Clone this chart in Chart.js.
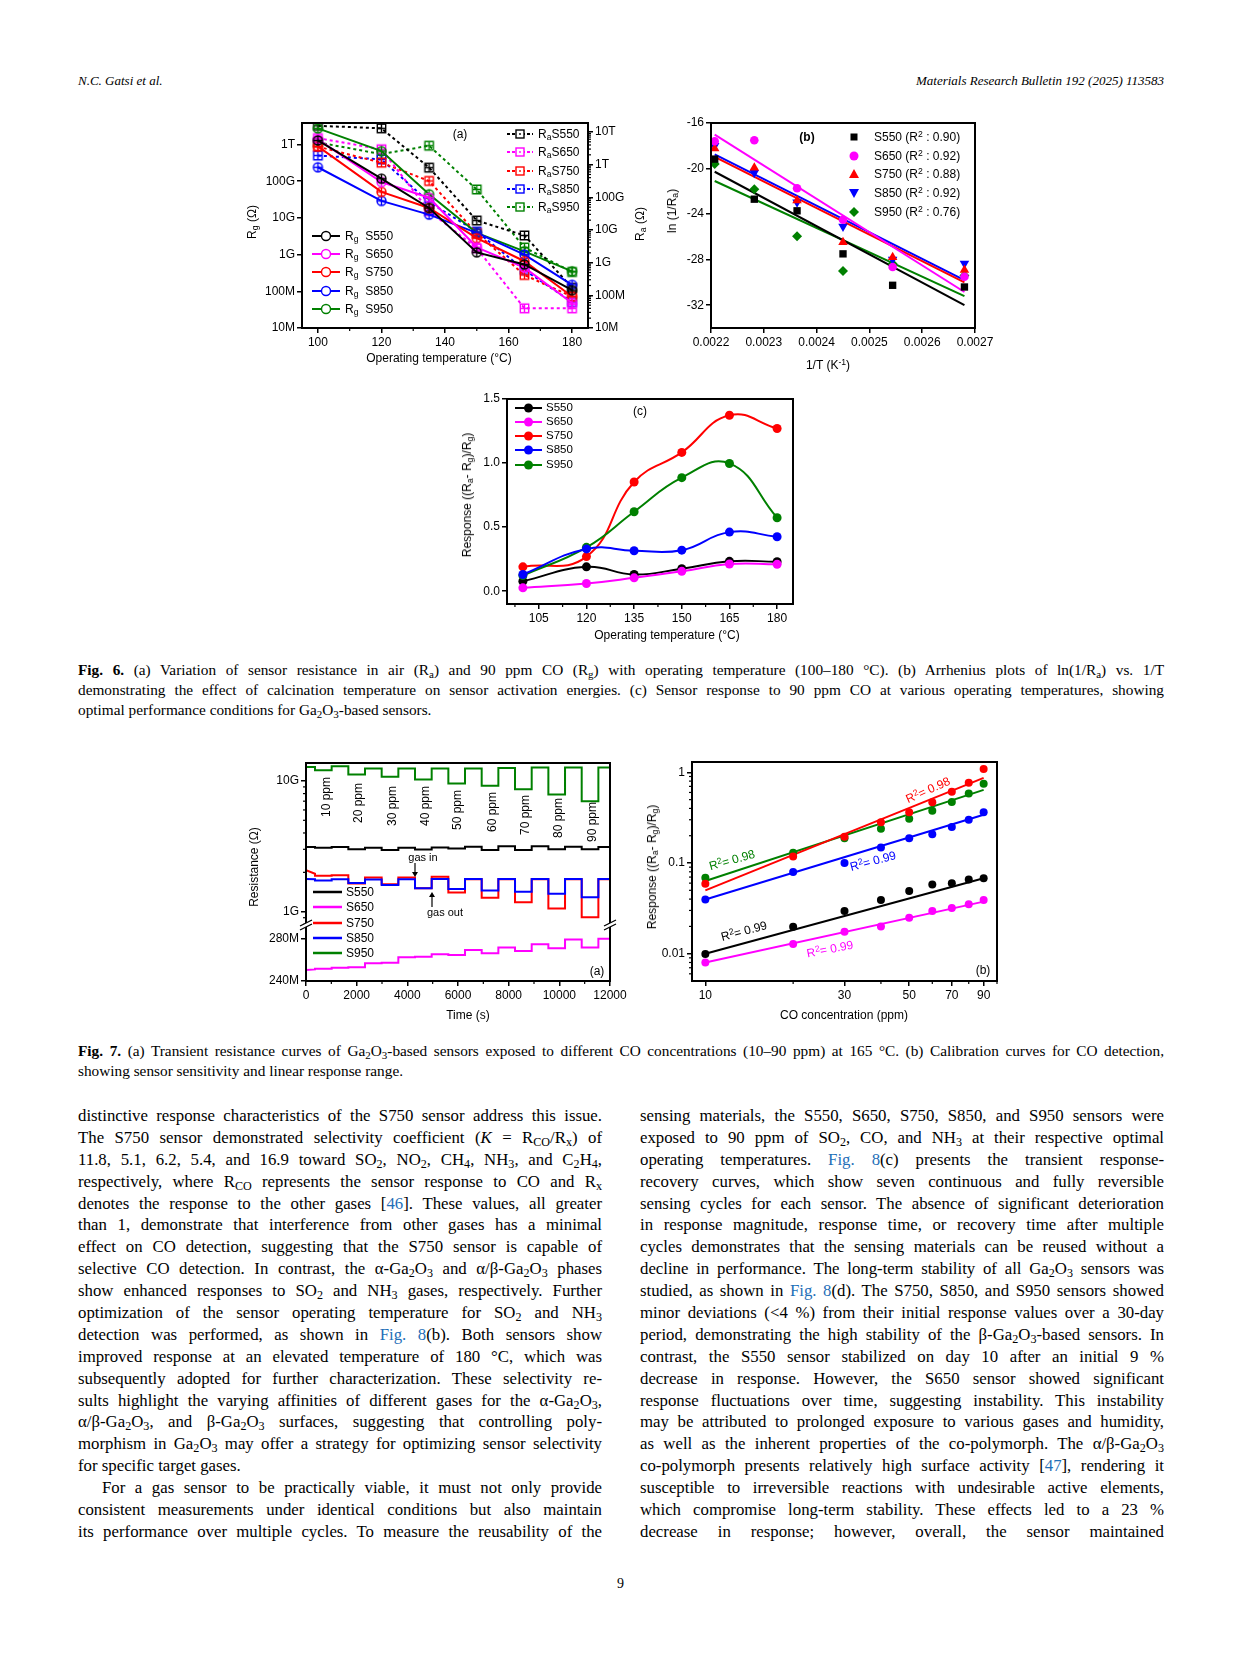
<!DOCTYPE html>
<html><head><meta charset="utf-8"><title>Fig. 6 and Fig. 7</title>
<script src="https://cdn.jsdelivr.net/npm/chart.js@4.4.1/dist/chart.umd.min.js"></script>
<style>
html,body{margin:0;padding:0;background:#fff;}
#page{position:relative;width:1241px;height:1654px;background:#fff;overflow:hidden;font-family:"Liberation Serif","DejaVu Serif",serif;color:#000;}
canvas{position:absolute;}
.lab{position:absolute;font-family:"Liberation Sans",Arial,sans-serif;font-size:12px;white-space:nowrap;line-height:1;color:#000;}
sub{font-size:0.72em;vertical-align:-0.28em;line-height:0;}
sup{font-size:0.72em;vertical-align:0.45em;line-height:0;}
.hdr{position:absolute;font-style:italic;font-size:13px;white-space:nowrap;}
.cap{position:absolute;left:78px;width:1086px;font-size:15.3px;}
.cap div{height:20.1px;line-height:20.1px;white-space:nowrap;text-align:justify;text-align-last:justify;}
.txt{position:absolute;width:524px;font-size:16.8px;}
.txt div{height:21.9px;line-height:21.9px;white-space:nowrap;text-align:justify;text-align-last:justify;}
.cap div.last,.txt div.last{text-align-last:left;}
.lk{color:#1f6fb8;}
</style></head>
<body><div id="page">
<div class="hdr" style="left:78px;top:73px;">N.C. Gatsi et al.</div>
<div class="hdr" style="right:77px;top:73px;">Materials Research Bulletin 192 (2025) 113583</div>

<div class="cap" style="top:660px;">
<div><b>Fig. 6.</b> (a) Variation of sensor resistance in air (R<sub>a</sub>) and 90 ppm CO (R<sub>g</sub>) with operating temperature (100–180 °C). (b) Arrhenius plots of ln(1/R<sub>a</sub>) vs. 1/T</div>
<div>demonstrating the effect of calcination temperature on sensor activation energies. (c) Sensor response to 90 ppm CO at various operating temperatures, showing</div>
<div class="last">optimal performance conditions for Ga<sub>2</sub>O<sub>3</sub>-based sensors.</div>
</div>

<div class="cap" style="top:1041px;">
<div><b>Fig. 7.</b> (a) Transient resistance curves of Ga<sub>2</sub>O<sub>3</sub>-based sensors exposed to different CO concentrations (10–90 ppm) at 165 °C. (b) Calibration curves for CO detection,</div>
<div class="last">showing sensor sensitivity and linear response range.</div>
</div>

<div class="txt" style="left:78px;top:1105px;">
<div>distinctive response characteristics of the S750 sensor address this issue.</div>
<div>The S750 sensor demonstrated selectivity coefficient (<i>K</i> = R<sub>CO</sub>/R<sub>x</sub>) of</div>
<div>11.8, 5.1, 6.2, 5.4, and 16.9 toward SO<sub>2</sub>, NO<sub>2</sub>, CH<sub>4</sub>, NH<sub>3</sub>, and C<sub>2</sub>H<sub>4</sub>,</div>
<div>respectively, where R<sub>CO</sub> represents the sensor response to CO and R<sub>x</sub></div>
<div>denotes the response to the other gases [<span class="lk">46</span>]. These values, all greater</div>
<div>than 1, demonstrate that interference from other gases has a minimal</div>
<div>effect on CO detection, suggesting that the S750 sensor is capable of</div>
<div>selective CO detection. In contrast, the α-Ga<sub>2</sub>O<sub>3</sub> and α/β-Ga<sub>2</sub>O<sub>3</sub> phases</div>
<div>show enhanced responses to SO<sub>2</sub> and NH<sub>3</sub> gases, respectively. Further</div>
<div>optimization of the sensor operating temperature for SO<sub>2</sub> and NH<sub>3</sub></div>
<div>detection was performed, as shown in <span class="lk">Fig. 8</span>(b). Both sensors show</div>
<div>improved response at an elevated temperature of 180 °C, which was</div>
<div>subsequently adopted for further characterization. These selectivity re-</div>
<div>sults highlight the varying affinities of different gases for the α-Ga<sub>2</sub>O<sub>3</sub>,</div>
<div>α/β-Ga<sub>2</sub>O<sub>3</sub>, and β-Ga<sub>2</sub>O<sub>3</sub> surfaces, suggesting that controlling poly-</div>
<div>morphism in Ga<sub>2</sub>O<sub>3</sub> may offer a strategy for optimizing sensor selectivity</div>
<div class="last">for specific target gases.</div>
<div style="padding-left:24px;">For a gas sensor to be practically viable, it must not only provide</div>
<div>consistent measurements under identical conditions but also maintain</div>
<div>its performance over multiple cycles. To measure the reusability of the</div>
</div>

<div class="txt" style="left:640px;top:1105px;">
<div>sensing materials, the S550, S650, S750, S850, and S950 sensors were</div>
<div>exposed to 90 ppm of SO<sub>2</sub>, CO, and NH<sub>3</sub> at their respective optimal</div>
<div>operating temperatures. <span class="lk">Fig. 8</span>(c) presents the transient response-</div>
<div>recovery curves, which show seven continuous and fully reversible</div>
<div>sensing cycles for each sensor. The absence of significant deterioration</div>
<div>in response magnitude, response time, or recovery time after multiple</div>
<div>cycles demonstrates that the sensing materials can be reused without a</div>
<div>decline in performance. The long-term stability of all Ga<sub>2</sub>O<sub>3</sub> sensors was</div>
<div>studied, as shown in <span class="lk">Fig. 8</span>(d). The S750, S850, and S950 sensors showed</div>
<div>minor deviations (&lt;4 %) from their initial response values over a 30-day</div>
<div>period, demonstrating the high stability of the β-Ga<sub>2</sub>O<sub>3</sub>-based sensors. In</div>
<div>contrast, the S550 sensor stabilized on day 10 after an initial 9 %</div>
<div>decrease in response. However, the S650 sensor showed significant</div>
<div>response fluctuations over time, suggesting instability. This instability</div>
<div>may be attributed to prolonged exposure to various gases and humidity,</div>
<div>as well as the inherent properties of the co-polymorph. The α/β-Ga<sub>2</sub>O<sub>3</sub></div>
<div>co-polymorph presents relatively high surface activity [<span class="lk">47</span>], rendering it</div>
<div>susceptible to irreversible reactions with undesirable active elements,</div>
<div>which compromise long-term stability. These effects led to a 23 %</div>
<div>decrease in response; however, overall, the sensor maintained</div>
</div>

<div style="position:absolute;left:617px;top:1576px;font-size:14px;">9</div>
</div>

<script>
// ================= DATA =================
const NAMES = ['S550', 'S650', 'S750', 'S850', 'S950'];

// ---- Fig. 6(a): resistance vs operating temperature (ohm)
const tempsA = [100, 120, 135, 150, 165, 180];
const rgS550 = [1.29e12, 1.17e11, 1.86e10, 1.15e9, 5.4e8, 1.07e8];
const rgS650 = [1.38e12, 9.5e10, 3.55e10, 1.58e9, 4.4e8, 4.8e7];
const rgS750 = [8.9e11, 5.1e10, 1.86e10, 2.8e9, 6.6e8, 7.2e7];
const rgS850 = [2.4e11, 2.9e10, 1.23e10, 3.9e9, 1.0e9, 1.5e8];
const rgS950 = [2.75e12, 6.6e11, 4.4e10, 3.9e9, 1.23e9, 3.5e8];
const raS550 = [1.55e13, 1.29e13, 8.1e11, 1.95e10, 6.8e9, 1.7e8];
const raS650 = [6.5e12, 2.95e12, 3.8e10, 2.75e9, 4.0e7, 4.0e7];
const raS750 = [3.55e12, 1.15e12, 3.16e11, 7.9e9, 4.2e8, 9.1e7];
const raS850 = [1.9e12, 1.45e12, 7.1e10, 8.9e9, 6.0e8, 6.2e7];
const raS950 = [4.8e12, 2.1e12, 3.8e12, 1.74e11, 2.9e9, 5.2e8];
const resTickValues = [1e7, 1e8, 1e9, 1e10, 1e11, 1e12, 1e13];
const resTickLabels = ['10M', '100M', '1G', '10G', '100G', '1T', '10T'];
const tempTicksA = [100, 120, 140, 160, 180];
const tempMinorA = [110, 130, 150, 170];
const logMantissas = [2, 3, 4, 5, 6, 7, 8, 9];

// ---- Fig. 6(b): Arrhenius plot
const invT = [0.002207, 0.002282, 0.002363, 0.002450, 0.002544, 0.002680];
const lnS550 = [-19.17, -22.69, -23.71, -27.49, -30.25, -30.4];
const lnS650 = [-17.6, -17.51, -21.73, -24.5, -28.65, -29.5];
const lnS750 = [-18.24, -19.93, -22.8, -26.47, -27.78, -28.9];
const lnS850 = [-18.0, -20.36, -22.95, -25.08, -27.99, -28.33];
const lnS950 = [-19.6, -21.82, -25.95, -29.0, -28.36, -29.4];
const fitInvT = [0.002207, 0.002680];
const fitLnS550 = [-20.28, -32.0];
const fitLnS650 = [-17.02, -30.84];
const fitLnS750 = [-18.97, -30.0];
const fitLnS850 = [-18.76, -29.8];
const fitLnS950 = [-21.09, -31.2];
const r2Arrhenius = ['0.90', '0.92', '0.88', '0.92', '0.76'];
const invTTicks = [0.0022, 0.0023, 0.0024, 0.0025, 0.0026, 0.0027];
const lnTicks = [-32, -28, -24, -20, -16];

// ---- Fig. 6(c): response vs temperature
const tempsC = [100, 120, 135, 150, 165, 180];
const respS550 = [0.078, 0.19, 0.13, 0.176, 0.233, 0.23];
const respS650 = [0.026, 0.06, 0.104, 0.155, 0.212, 0.21];
const respS750 = [0.19, 0.27, 0.852, 1.083, 1.373, 1.27];
const respS850 = [0.13, 0.33, 0.316, 0.32, 0.461, 0.425];
const respS950 = [0.122, 0.342, 0.62, 0.886, 0.997, 0.573];
const respTicks = [0, 0.5, 1.0, 1.5];
const tempTicksC = [105, 120, 135, 150, 165, 180];
const tempMinorC = [97.5, 112.5, 127.5, 142.5, 157.5, 172.5];

// ---- Fig. 7(a): transient resistance (S650 in M-ohm, others in G-ohm)
const gasIn  = [355, 1671, 2987, 4303, 5619, 6935, 8251, 9567, 10883];
const gasOut = [1013, 2329, 3645, 4961, 6277, 7593, 8909, 10225, 11541];
const trS550Start = 3.12;
const trS550Base = [3.12, 3.12, 3.08, 3.08, 3.10, 3.14, 3.17, 3.17, 3.14, 3.12];
const trS550Dip  = [3.08, 3.01, 2.96, 2.99, 3.05, 2.96, 2.96, 3.01, 3.01];
const trS650Start = 250.3;
const trS650Base = [250.9, 252.5, 256.6, 262.2, 265.0, 269.0, 271.5, 274.4, 279.0, 279.7];
const trS650Dip  = [251.6, 252.8, 257.2, 262.8, 264.4, 265.9, 268.1, 270.6, 271.5];
const trS750Start = 2.08;
const trS750Base = [1.95, 1.90, 1.83, 1.83, 1.85, 1.77, 1.77, 1.77, 1.77, 1.77];
const trS750Dip  = [1.88, 1.64, 1.62, 1.51, 1.40, 1.28, 1.18, 1.06, 0.906];
const trS850Start = 1.78;
const trS850Base = [1.77, 1.77, 1.76, 1.77, 1.78, 1.78, 1.78, 1.78, 1.78, 1.78];
const trS850Dip  = [1.73, 1.66, 1.60, 1.51, 1.49, 1.45, 1.42, 1.37, 1.29];
const trS950Start = 12.8;
const trS950Base = [12.8, 12.95, 12.43, 12.43, 12.43, 12.43, 12.58, 12.65, 12.65, 12.65];
const trS950Dip  = [12.07, 11.18, 10.74, 10.24, 9.55, 9.17, 8.64, 7.87, 7.0];
const timeTicks = [0, 2000, 4000, 6000, 8000, 10000, 12000];
const timeMinor = [1000, 3000, 5000, 7000, 9000, 11000];
const resTopTicks = [1, 10];
const resTopLabels = ['1G', '10G'];
const resBotTicks = [240, 280];
const resBotLabels = ['240M', '280M'];
const ppmLabels = ['10 ppm', '20 ppm', '30 ppm', '40 ppm', '50 ppm', '60 ppm', '70 ppm', '80 ppm', '90 ppm'];

// ---- Fig. 7(b): calibration curves
const conc = [10, 20, 30, 40, 50, 60, 70, 80, 90];
const calS550 = [0.0099, 0.0198, 0.0295, 0.039, 0.049, 0.058, 0.060, 0.066, 0.068];
const calS650 = [0.008, 0.0128, 0.0175, 0.020, 0.0249, 0.0295, 0.032, 0.035, 0.039];
const calS750 = [0.059, 0.118, 0.195, 0.282, 0.363, 0.468, 0.61, 0.77, 1.09];
const calS850 = [0.0396, 0.0796, 0.1, 0.148, 0.188, 0.207, 0.249, 0.30, 0.363];
const calS950 = [0.069, 0.130, 0.188, 0.239, 0.308, 0.376, 0.47, 0.586, 0.748];
const calFitConc = [10, 90];
const calFitS550 = [0.0100, 0.0680];
const calFitS650 = [0.0080, 0.0375];
const calFitS750 = [0.050, 0.87];
const calFitS850 = [0.0396, 0.340];
const calFitS950 = [0.0634, 0.64];
const r2Cal = ['0.99', '0.99', '0.98', '0.99', '0.98'];
const concTicks = [10, 30, 50, 70, 90];
const concMinor = [20, 40, 60, 80, 100];
const calTicks = [0.01, 0.1, 1];
const calTickLabels = ['0.01', '0.1', '1'];

// ================= STYLE / HELPERS =================
const COLORS = ['#000000', '#ff00ff', '#ff0000', '#0000ff', '#008000'];
const FONT = '"Liberation Sans", Arial, Helvetica, sans-serif';
Chart.defaults.font.family = FONT;
Chart.defaults.font.size = 12;
Chart.defaults.color = '#000';
const page = document.getElementById('page');

function place(plot, yW, y2W, xH) {
  const padL = 4, padT = 12, padR = y2W ? 6 : 26, padB = 4;
  const cv = document.createElement('canvas');
  const w = plot.r - plot.l + padL + yW + y2W + padR;
  const h = plot.b - plot.t + padT + xH + padB;
  cv.width = w; cv.height = h;
  cv.style.left = (plot.l - padL - yW) + 'px';
  cv.style.top = (plot.t - padT) + 'px';
  cv.style.width = w + 'px'; cv.style.height = h + 'px';
  page.appendChild(cv);
  return { cv, padding: { left: padL, top: padT, right: padR, bottom: padB } };
}

function axis(type, position, min, max, tickVals, fmt, size, extra) {
  const horiz = position === 'bottom';
  return Object.assign({
    type, position, min, max,
    border: { display: false },
    grid: { display: true, drawOnChartArea: false, drawTicks: true, tickLength: 5, color: '#000', lineWidth: 1.5 },
    ticks: { color: '#000', font: { family: FONT, size: 12 }, padding: 2, maxRotation: 0, minRotation: 0, autoSkip: false,
             callback: (v) => fmt(v) },
    afterBuildTicks: (s) => { s.ticks = tickVals.map(v => ({ value: v })); },
    afterFit: (s) => { if (horiz) s.height = size; else s.width = size; }
  }, extra || {});
}

function common(padding) {
  return { responsive: false, animation: false, events: [], layout: { padding },
           plugins: { legend: { display: false }, tooltip: { enabled: false }, title: { display: false } } };
}

const framePlugin = { id: 'frame', afterDatasetsDraw(chart) {
  const a = chart.chartArea, c = chart.ctx;
  c.save(); c.strokeStyle = '#000'; c.lineWidth = 2;
  c.strokeRect(a.left, a.top, a.right - a.left, a.bottom - a.top); c.restore();
}};
const minorPlugin = { id: 'minor', afterDraw(chart) {
  const c = chart.ctx; c.save(); c.strokeStyle = '#000'; c.lineWidth = 1.2;
  for (const s of Object.values(chart.scales)) {
    const m = s.options.minorTicks; if (!m) continue;
    for (const v of m) {
      const p = s.getPixelForValue(v);
      c.beginPath();
      if (s.isHorizontal()) {
        if (p < s.left - 0.5 || p > s.right + 0.5) continue;
        c.moveTo(p, s.top); c.lineTo(p, s.top + 3);
      } else {
        if (p < s.top - 0.5 || p > s.bottom + 0.5) continue;
        if (s.position === 'left') { c.moveTo(s.right, p); c.lineTo(s.right - 3, p); }
        else { c.moveTo(s.left, p); c.lineTo(s.left + 3, p); }
      }
      c.stroke();
    }
  }
  c.restore();
}};
const breakPlugin = { id: 'brk', afterDraw(chart) {
  const s = chart.scales.yBot; if (!s) return;
  const y = s.top, c = chart.ctx, a = chart.chartArea;
  c.save();
  for (const x of [a.left, a.right]) {
    c.fillStyle = '#fff'; c.beginPath();
    c.moveTo(x - 6, y + 1); c.lineTo(x + 6, y - 5); c.lineTo(x + 6, y - 1); c.lineTo(x - 6, y + 5); c.closePath(); c.fill();
    c.strokeStyle = '#000'; c.lineWidth = 1.3; c.beginPath();
    c.moveTo(x - 6, y + 1); c.lineTo(x + 6, y - 5); c.moveTo(x - 6, y + 5); c.lineTo(x + 6, y - 1); c.stroke();
  }
  c.restore();
}};

function crossMarker(shape, color, r) {
  const s = Math.ceil(2 * r + 4), m = s / 2;
  const cv = document.createElement('canvas'); cv.width = s; cv.height = s;
  const g = cv.getContext('2d'); g.strokeStyle = color; g.lineWidth = 1.4;
  g.beginPath();
  if (shape === 'circle') g.arc(m, m, r, 0, 2 * Math.PI); else g.rect(m - r, m - r, 2 * r, 2 * r);
  g.stroke();
  g.beginPath(); g.moveTo(m - r, m); g.lineTo(m + r, m); g.moveTo(m, m - r); g.lineTo(m, m + r); g.stroke();
  return cv;
}

function label(x, y, html, o) {
  o = o || {};
  const d = document.createElement('div');
  d.className = 'lab';
  d.innerHTML = html;
  d.style.left = x + 'px'; d.style.top = y + 'px';
  if (o.size) d.style.fontSize = o.size + 'px';
  if (o.bold) d.style.fontWeight = 'bold';
  if (o.color) d.style.color = o.color;
  let tr = o.anchor === 'l' ? 'translate(0,-50%)' : 'translate(-50%,-50%)';
  if (o.rot) tr += ' rotate(' + o.rot + 'deg)';
  d.style.transform = tr;
  page.appendChild(d);
}

function legendMark(x0, yc, w, color, o) {
  const d = document.createElement('div');
  d.style.cssText = 'position:absolute;left:' + x0 + 'px;top:' + (yc - 7) + 'px;width:' + w + 'px;height:14px;';
  const m = w / 2;
  let s = '<svg width="' + w + '" height="14" viewBox="0 0 ' + w + ' 14" xmlns="http://www.w3.org/2000/svg">';
  if (o.line) s += '<line x1="0" y1="7" x2="' + w + '" y2="7" stroke="' + color + '" stroke-width="' + (o.lw || 2) + '"' + (o.dash ? ' stroke-dasharray="' + o.dash + '"' : '') + '/>';
  switch (o.marker) {
    case 'ocircle': s += '<circle cx="' + m + '" cy="7" r="4.5" fill="#fff" stroke="' + color + '" stroke-width="1.4"/>'; break;
    case 'osquare': s += '<rect x="' + (m - 4) + '" y="3" width="8" height="8" fill="#fff" stroke="' + color + '" stroke-width="1.4"/><circle cx="' + m + '" cy="7" r="0.9" fill="' + color + '"/>'; break;
    case 'circle': s += '<circle cx="' + m + '" cy="7" r="4.5" fill="' + color + '"/>'; break;
    case 'rect': s += '<rect x="' + (m - 3.5) + '" y="3.5" width="7" height="7" fill="' + color + '"/>'; break;
    case 'tri': s += '<polygon points="' + m + ',2 ' + (m + 5) + ',11 ' + (m - 5) + ',11" fill="' + color + '"/>'; break;
    case 'itri': s += '<polygon points="' + m + ',12 ' + (m + 5) + ',3 ' + (m - 5) + ',3" fill="' + color + '"/>'; break;
    case 'diamond': s += '<polygon points="' + m + ',2 ' + (m + 5) + ',7 ' + m + ',12 ' + (m - 5) + ',7" fill="' + color + '"/>'; break;
  }
  s += '</svg>';
  d.innerHTML = s;
  page.appendChild(d);
}

function xy(xs, ys) { return xs.map((x, i) => ({ x, y: ys[i] })); }
function minorLog(decades) { const out = []; decades.forEach(d => logMantissas.forEach(m => out.push(m * d))); return out; }
const fmtRes = v => resTickLabels[resTickValues.indexOf(v)];

// ================= FIG 6(a) =================
(function () {
  const P = { l: 302, t: 123, r: 588, b: 328 };
  const { cv, padding } = place(P, 62, 48, 30);
  const rg = [rgS550, rgS650, rgS750, rgS850, rgS950];
  const ra = [raS550, raS650, raS750, raS850, raS950];
  const ds = [];
  rg.forEach((arr, i) => ds.push({ data: xy(tempsA, arr), yAxisID: 'y', borderColor: COLORS[i], borderWidth: 2,
    pointStyle: crossMarker('circle', COLORS[i], 4.5), pointRadius: 5, tension: 0 }));
  ra.forEach((arr, i) => ds.push({ data: xy(tempsA, arr), yAxisID: 'y2', borderColor: COLORS[i], borderWidth: 2, borderDash: [3, 3],
    pointStyle: crossMarker('square', COLORS[i], 4.2), pointRadius: 5, tension: 0 }));
  new Chart(cv, { type: 'line', data: { datasets: ds }, options: Object.assign(common(padding), {
    scales: {
      x: axis('linear', 'bottom', 95, 185, tempTicksA, v => String(v), 30, { minorTicks: tempMinorA }),
      y: axis('logarithmic', 'left', 1e7, Math.pow(10, 12.586), resTickValues.slice(0, 6), fmtRes, 62),
      y2: axis('logarithmic', 'right', 1e7, Math.pow(10, 13.275), resTickValues, fmtRes, 48,
               { minorTicks: minorLog([1e7, 1e8, 1e9, 1e10, 1e11, 1e12, 1e13]) })
    } }), plugins: [framePlugin, minorPlugin] });
  label(252, 222, 'R<sub>g</sub> (Ω)', { rot: -90 });
  label(640, 224, 'R<sub>a</sub> (Ω)', { rot: -90 });
  label(439, 358, 'Operating temperature (°C)');
  label(460, 134, '(a)');
  const yl = [236, 254, 272, 291, 309];
  const yr = [134, 152, 171, 189, 207];
  NAMES.forEach((n, i) => {
    legendMark(312, yl[i], 28, COLORS[i], { line: true, lw: 2, marker: 'ocircle' });
    label(345, yl[i], 'R<sub>g</sub>&nbsp; ' + n, { anchor: 'l' });
    legendMark(507, yr[i], 26, COLORS[i], { line: true, lw: 2, dash: '3,2', marker: 'osquare' });
    label(538, yr[i], 'R<sub>a</sub>' + n, { anchor: 'l' });
  });
})();

// ================= FIG 6(b) =================
(function () {
  const P = { l: 711, t: 123, r: 975, b: 328 };
  const { cv, padding } = place(P, 50, 0, 30);
  const pts = [lnS550, lnS650, lnS750, lnS850, lnS950];
  const fits = [fitLnS550, fitLnS650, fitLnS750, fitLnS850, fitLnS950];
  const styles = [['rect', 0, 5.2], ['circle', 0, 4.3], ['triangle', 0, 5.5], ['triangle', 180, 5.5], ['rectRot', 0, 5]];
  const ds = [];
  pts.forEach((arr, i) => ds.push({ data: xy(invT, arr), showLine: false, pointStyle: styles[i][0], pointRotation: styles[i][1],
    pointRadius: styles[i][2], backgroundColor: COLORS[i], borderColor: COLORS[i], borderWidth: 0 }));
  fits.forEach((arr, i) => ds.push({ data: xy(fitInvT, arr), borderColor: COLORS[i], borderWidth: 2, pointRadius: 0 }));
  new Chart(cv, { type: 'line', data: { datasets: ds }, options: Object.assign(common(padding), {
    scales: {
      x: axis('linear', 'bottom', 0.0022, 0.0027, invTTicks, v => v.toFixed(4), 30),
      y: axis('linear', 'left', -34, -16, lnTicks, v => String(v), 50)
    } }), plugins: [framePlugin, minorPlugin] });
  label(672, 211, 'ln (1/R<sub>a</sub>)', { rot: -90 });
  label(828, 365, '1/T (K<sup>-1</sup>)');
  label(807, 137, '(b)', { bold: true });
  const yy = [137, 156, 174, 193, 212];
  const mk = ['rect', 'circle', 'tri', 'itri', 'diamond'];
  NAMES.forEach((n, i) => {
    legendMark(847, yy[i], 14, COLORS[i], { marker: mk[i] });
    label(874, yy[i], n + ' (R<sup>2</sup> : ' + r2Arrhenius[i] + ')', { anchor: 'l' });
  });
})();

// ================= FIG 6(c) =================
(function () {
  const P = { l: 507, t: 399, r: 793, b: 604 };
  const { cv, padding } = place(P, 50, 0, 30);
  const arrs = [respS550, respS650, respS750, respS850, respS950];
  const order = [3, 4, 2, 1, 0];
  const ds = order.map(i => ({ data: xy(tempsC, arrs[i]), borderColor: COLORS[i], backgroundColor: COLORS[i], borderWidth: 2,
    pointRadius: 4.5, pointBorderWidth: 0, tension: 0.45 }));
  new Chart(cv, { type: 'line', data: { datasets: ds }, options: Object.assign(common(padding), {
    scales: {
      x: axis('linear', 'bottom', 95, 185, tempTicksC, v => String(v), 30, { minorTicks: tempMinorC }),
      y: axis('linear', 'left', -0.1, 1.5, respTicks, v => v.toFixed(1), 50)
    } }), plugins: [framePlugin, minorPlugin] });
  label(467, 495, 'Response ((R<sub>a</sub>- R<sub>g</sub>)/R<sub>g</sub>)', { rot: -90 });
  label(667, 635, 'Operating temperature (°C)');
  label(640, 411, '(c)');
  const yy = [408, 422, 436, 450, 465];
  NAMES.forEach((n, i) => {
    legendMark(515, yy[i], 27, COLORS[i], { line: true, lw: 2, marker: 'circle' });
    label(546, yy[i], n, { anchor: 'l', size: 11.5 });
  });
})();

// ================= FIG 7(a) =================
function stepSeries(start, base, dip) {
  const pts = [{ x: 0, y: start }];
  for (let k = 0; k < gasIn.length; k++) {
    pts.push({ x: gasIn[k], y: base[k] });
    pts.push({ x: gasIn[k], y: dip[k] });
    pts.push({ x: gasOut[k], y: dip[k] });
    pts.push({ x: gasOut[k], y: base[k + 1] });
  }
  pts.push({ x: 12000, y: base[base.length - 1] });
  return pts;
}
(function () {
  const P = { l: 306, t: 763, r: 610, b: 981 };
  const { cv, padding } = place(P, 60, 0, 30);
  const series = [
    { d: stepSeries(trS950Start, trS950Base, trS950Dip), c: 4, ax: 'yTop' },
    { d: stepSeries(trS850Start, trS850Base, trS850Dip), c: 3, ax: 'yTop' },
    { d: stepSeries(trS750Start, trS750Base, trS750Dip), c: 2, ax: 'yTop' },
    { d: stepSeries(trS550Start, trS550Base, trS550Dip), c: 0, ax: 'yTop' },
    { d: stepSeries(trS650Start, trS650Base, trS650Dip), c: 1, ax: 'yBot' }
  ];
  const ds = series.map(s => ({ data: s.d, yAxisID: s.ax, borderColor: COLORS[s.c], borderWidth: 2, pointRadius: 0, tension: 0 }));
  const opts = Object.assign(common(padding), {
    scales: {
      x: axis('linear', 'bottom', 0, 12000, timeTicks, v => String(v), 30, { minorTicks: timeMinor }),
      yTop: axis('logarithmic', 'left', Math.pow(10, -0.1015), Math.pow(10, 1.137), resTopTicks,
                 v => resTopLabels[resTopTicks.indexOf(v)], 60,
                 { stack: 'res', stackWeight: 162, weight: 2, minorTicks: [0.8, 0.9].concat(minorLog([1])) }),
      yBot: axis('linear', 'left', 240, 292.5, resBotTicks, v => resBotLabels[resBotTicks.indexOf(v)], 60,
                 { stack: 'res', stackWeight: 56, weight: 1 })
    } });
  const ch = new Chart(cv, { type: 'line', data: { datasets: ds }, options: opts, plugins: [framePlugin, minorPlugin, breakPlugin] });
  if (ch.scales.yTop.top > ch.scales.yBot.top) {
    ch.options.scales.yTop.weight = 1; ch.options.scales.yBot.weight = 2; ch.update();
  }
  label(254, 867, 'Resistance (Ω)', { rot: -90 });
  label(468, 1015, 'Time (s)');
  label(597, 971, '(a)');
  const px = [326, 358, 392, 425, 457, 492, 525, 558, 592];
  const py = [797, 803, 806, 806, 810, 812, 815, 818, 822];
  ppmLabels.forEach((t, i) => label(px[i], py[i], t, { rot: -90 }));
  label(423, 857, 'gas in', { size: 11 });
  label(445, 912, 'gas out', { size: 11 });
  const arr = document.createElement('div');
  arr.style.cssText = 'position:absolute;left:405px;top:855px;width:40px;height:60px;';
  arr.innerHTML = '<svg width="40" height="60" xmlns="http://www.w3.org/2000/svg">' +
    '<line x1="10" y1="8" x2="10" y2="18" stroke="#000" stroke-width="1.2"/><polygon points="7,17 13,17 10,22" fill="#000"/>' +
    '<line x1="27" y1="52" x2="27" y2="41" stroke="#000" stroke-width="1.2"/><polygon points="24,42 30,42 27,37" fill="#000"/>' +
    '</svg>';
  page.appendChild(arr);
  const yy = [892, 907, 923, 938, 953];
  NAMES.forEach((n, i) => {
    legendMark(313, yy[i], 29, COLORS[i], { line: true, lw: 2.5 });
    label(346, yy[i], n, { anchor: 'l' });
  });
})();

// ================= FIG 7(b) =================
(function () {
  const P = { l: 692, t: 762, r: 997, b: 981 };
  const { cv, padding } = place(P, 50, 0, 30);
  const pts = [calS550, calS650, calS750, calS850, calS950];
  const fits = [calFitS550, calFitS650, calFitS750, calFitS850, calFitS950];
  const ds = [];
  pts.forEach((arr, i) => ds.push({ data: xy(conc, arr), showLine: false, pointRadius: 4, backgroundColor: COLORS[i], borderColor: COLORS[i], pointBorderWidth: 0 }));
  fits.forEach((arr, i) => ds.push({ data: xy(calFitConc, arr), borderColor: COLORS[i], borderWidth: 2, pointRadius: 0 }));
  new Chart(cv, { type: 'line', data: { datasets: ds }, options: Object.assign(common(padding), {
    scales: {
      x: axis('logarithmic', 'bottom', 9, 100, concTicks, v => String(v), 30, { minorTicks: concMinor }),
      y: axis('logarithmic', 'left', 0.005, 1.3, calTicks, v => calTickLabels[calTicks.indexOf(v)], 50,
              { minorTicks: [0.006, 0.007, 0.008, 0.009].concat(minorLog([0.01, 0.1])) })
    } }), plugins: [framePlugin, minorPlugin] });
  label(652, 867, 'Response ((R<sub>a</sub>- R<sub>g</sub>)/R<sub>g</sub>)', { rot: -90 });
  label(844, 1015, 'CO concentration (ppm)');
  label(983, 970, '(b)');
  label(732, 860, 'R<sup>2</sup>= ' + r2Cal[4], { color: COLORS[4], rot: -16 });
  label(928, 790, 'R<sup>2</sup>= ' + r2Cal[2], { color: COLORS[2], rot: -24 });
  label(873, 861, 'R<sup>2</sup>= ' + r2Cal[3], { color: COLORS[3], rot: -15 });
  label(744, 931, 'R<sup>2</sup>= ' + r2Cal[0], { color: COLORS[0], rot: -15 });
  label(830, 949, 'R<sup>2</sup>= ' + r2Cal[1], { color: COLORS[1], rot: -11 });
})();
</script>
</body></html>
